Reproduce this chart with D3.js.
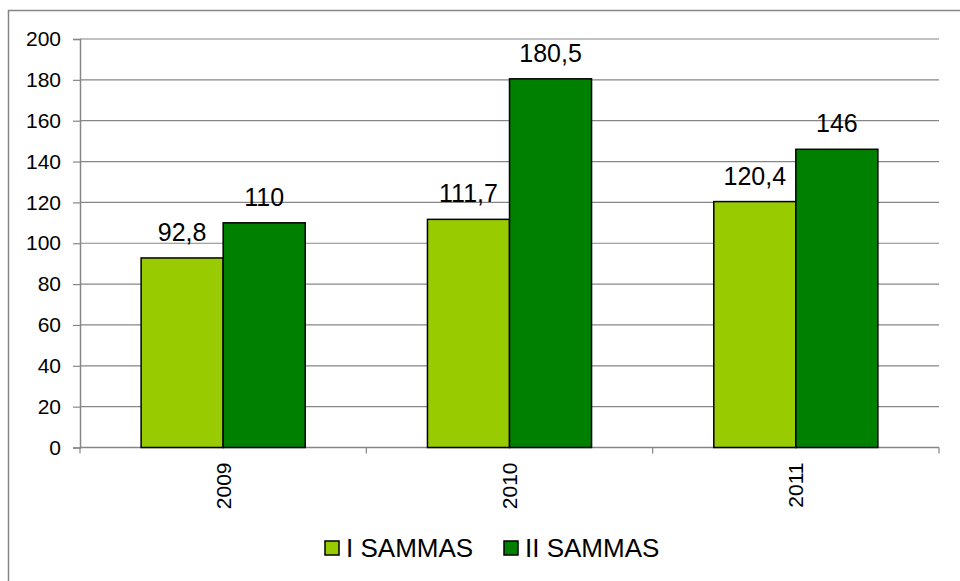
<!DOCTYPE html>
<html>
<head>
<meta charset="utf-8">
<script src="https://cdn.jsdelivr.net/npm/d3@7"></script>
<style>
    body { margin: 0; background: #fff; }
    text { font-family: "Liberation Sans", Arial, sans-serif; fill: #000; }
</style>
</head>
<body>
<div class="chart"></div>
<script>

// Chart data
var years = ["2009", "2010", "2011"];
var seriesNames = ["I SAMMAS", "II SAMMAS"];
var sammas1 = [92.8, 111.7, 120.4];
var sammas2 = [110, 180.5, 146];
var yTicks = [0, 20, 40, 60, 80, 100, 120, 140, 160, 180, 200];
var colors = ["#99cc00", "#008000"];

var width = 960, height = 581;
var plot = { left: 80, right: 939, top: 39, bottom: 447.5 };

var svg = d3.select(".chart")
    .append("svg")
        .attr("width", width)
        .attr("height", height);

// Outer chart border (right and bottom fall outside the picture)
svg.append("rect")
    .attr("x", 8.5)
    .attr("y", 10.5)
    .attr("width", 1000)
    .attr("height", 1000)
    .style("fill", "none")
    .style("stroke", "#868686")
    .style("stroke-width", 1.5);

var y = d3.scaleLinear()
    .domain([0, 200])
    .range([plot.bottom, plot.top]);

var x0 = d3.scaleBand()
    .domain(years)
    .range([plot.left, plot.right])
    .padding(0);

var x1 = d3.scaleBand()
    .domain(seriesNames)
    .range([0, x0.bandwidth()])
    .paddingInner(0)
    .paddingOuter(0.745);

// Gridlines
svg.append("g")
    .selectAll("line")
    .data(yTicks.slice(1))
    .enter()
    .append("line")
    .attr("x1", plot.left)
    .attr("x2", plot.right)
    .attr("y1", function(d) { return y(d); })
    .attr("y2", function(d) { return y(d); })
    .style("stroke", "#868686")
    .style("stroke-width", 1.2);

// Y axis
var yAxis = svg.append("g")
    .attr("class", "y axis")
    .attr("transform", "translate(" + plot.left + ",0)")
    .call(d3.axisLeft(y).tickValues(yTicks).tickSize(7).tickPadding(12));

yAxis.select(".domain").style("stroke", "#868686").style("stroke-width", 1.5);
yAxis.selectAll(".tick line").style("stroke", "#868686").style("stroke-width", 1.2);
yAxis.selectAll("text")
    .style("font-size", "21px")
    .style("font-family", "Liberation Sans, Arial, sans-serif")
    .attr("fill", "#000");

// X axis: ticks sit between categories
var xAxis = svg.append("g")
    .attr("class", "x axis")
    .attr("transform", "translate(0," + plot.bottom + ")");

xAxis.append("line")
    .attr("x1", plot.left)
    .attr("x2", plot.right)
    .style("stroke", "#868686")
    .style("stroke-width", 1.5);

var boundaries = years.map(function(d) { return x0(d); }).concat([plot.right]);
xAxis.selectAll(".xtick")
    .data(boundaries)
    .enter()
    .append("line")
    .attr("class", "xtick")
    .attr("x1", function(d) { return d; })
    .attr("x2", function(d) { return d; })
    .attr("y1", 0)
    .attr("y2", 6)
    .style("stroke", "#868686")
    .style("stroke-width", 1.2);

xAxis.selectAll(".xlabel")
    .data(years)
    .enter()
    .append("text")
    .attr("class", "xlabel")
    .attr("transform", function(d) {
        return "translate(" + (x0(d) + x0.bandwidth() / 2 + 7.5) + ",15) rotate(-90)";
    })
    .attr("text-anchor", "end")
    .style("font-size", "21px")
    .text(function(d) { return d; });

// Bars
var rows = years.map(function(yr, i) {
    return { year: yr, values: [sammas1[i], sammas2[i]] };
});

var groups = svg.selectAll(".group")
    .data(rows)
    .enter()
    .append("g")
    .attr("class", "group")
    .attr("transform", function(d) { return "translate(" + x0(d.year) + ",0)"; });

groups.selectAll("rect")
    .data(function(d) {
        return d.values.map(function(v, j) { return { name: seriesNames[j], value: v, idx: j }; });
    })
    .enter()
    .append("rect")
    .attr("x", function(d) { return x1(d.name); })
    .attr("width", x1.bandwidth())
    .attr("y", function(d) { return y(d.value); })
    .attr("height", function(d) { return y(0) - y(d.value); })
    .style("fill", function(d) { return colors[d.idx]; })
    .style("stroke", "#000")
    .style("stroke-width", 1.5);

// Value labels with decimal comma
var formatComma = function(v) { return String(v).replace(".", ","); };

groups.selectAll(".label")
    .data(function(d) {
        return d.values.map(function(v, j) { return { name: seriesNames[j], value: v }; });
    })
    .enter()
    .append("text")
    .attr("class", "label")
    .attr("x", function(d) { return x1(d.name) + x1.bandwidth() / 2; })
    .attr("y", function(d) { return y(d.value) - 17; })
    .attr("text-anchor", "middle")
    .style("font-size", "25px")
    .text(function(d) { return formatComma(d.value); });

// Legend
var legendX = [325, 504];
var legend = svg.selectAll(".legend")
    .data(seriesNames)
    .enter()
    .append("g")
    .attr("class", "legend")
    .attr("transform", function(d, i) { return "translate(" + legendX[i] + ",541)"; });

legend.append("rect")
    .attr("width", 14)
    .attr("height", 14)
    .style("fill", function(d, i) { return colors[i]; })
    .style("stroke", "#000")
    .style("stroke-width", 1.5);

legend.append("text")
    .attr("x", 21)
    .attr("y", 15.5)
    .style("font-size", "26px")
    .text(function(d) { return d; });

</script>
</body>
</html>
